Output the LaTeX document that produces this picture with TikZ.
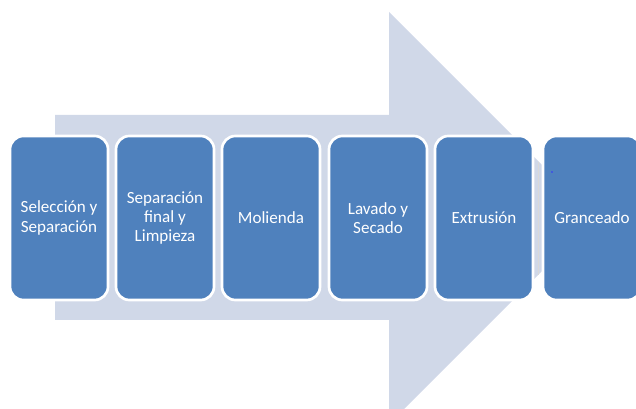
\documentclass[tikz,border=0pt]{standalone}
\usepackage{fontspec}
\setmainfont{Carlito}
\definecolor{arrowfill}{HTML}{D0D8E8}
\definecolor{boxfill}{HTML}{4F81BD}
\begin{document}
\begin{tikzpicture}[x=0.75pt,y=-0.75pt,
  stepbox/.style={draw=white,line width=2pt,fill=boxfill,rounded corners=10pt,
    minimum width=73.5pt,minimum height=123pt,inner sep=0pt,outer sep=0pt,anchor=north west,
    text=white,align=center,font=\fontsize{12.8}{14.4}\selectfont}]
\useasboundingbox (0,0) rectangle (636,409);
\clip (0,0) rectangle (636,409);
\fill[arrowfill] (55,115) -- (389,115) -- (389,12) -- (595,218) -- (389,424) -- (389,320) -- (55,320) -- cycle;
\node[stepbox] (s1) at (10,136) {Selección y\\Separación};
\node[stepbox] (s2) at (116,136) {Separación\\final y\\Limpieza};
\node[stepbox] (s3) at (222,136) {Molienda};
\node[stepbox] (s4) at (329,136) {Lavado y\\Secado};
\node[stepbox] (s5) at (435,136) {Extrusión};
\node[stepbox] (s6) at (543,136) {Granceado};
\coordinate (la) at (538,162);
\coordinate (lb) at (538,275);
\draw[black!15,line width=0.6pt] (la) -- (lb);
\fill[blue!80] (552,172) circle (0.9);
\end{tikzpicture}
\end{document}
